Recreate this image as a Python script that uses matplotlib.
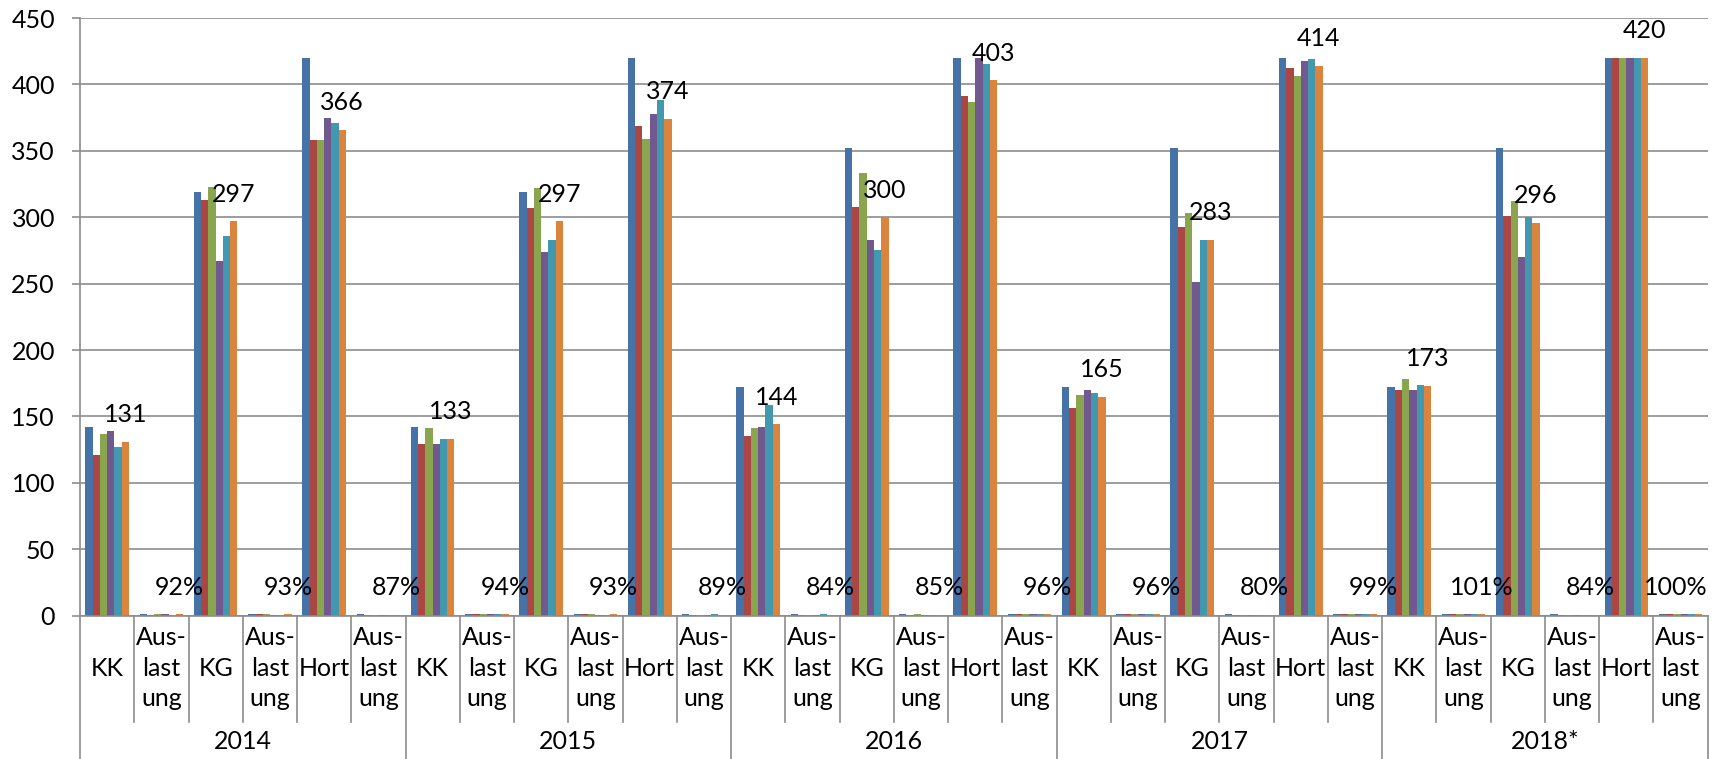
import matplotlib
matplotlib.use("Agg")
import matplotlib.pyplot as plt

plt.rcParams['font.family'] = ['Lato', 'DejaVu Sans']

years = ["2014", "2015", "2016", "2017", "2018*"]
subcats = ["KK", "Aus-\nlast\nung", "KG", "Aus-\nlast\nung", "Hort", "Aus-\nlast\nung"]

# values per category in order: KK, Auslastung, KG, Auslastung, Hort, Auslastung (x 5 years)
s_blue = [142, 1.00, 319, 1.00, 420, 1.00,
          142, 1.00, 319, 1.00, 420, 1.00,
          172, 1.00, 352, 1.00, 420, 1.00,
          172, 1.00, 352, 1.00, 420, 1.00,
          172, 1.00, 352, 1.00, 420, 1.00]
s_red = [121, 0.85, 313, 0.98, 358, 0.85,
         129, 0.91, 307, 0.96, 369, 0.88,
         135, 0.78, 308, 0.88, 391, 0.93,
         156, 0.91, 293, 0.83, 412, 0.98,
         170, 0.99, 301, 0.86, 420, 1.00]
s_green = [137, 0.96, 323, 1.01, 358, 0.85,
           141, 0.99, 322, 1.01, 359, 0.85,
           141, 0.82, 333, 0.95, 387, 0.92,
           166, 0.97, 303, 0.86, 406, 0.97,
           178, 1.03, 312, 0.89, 420, 1.00]
s_purple = [139, 0.98, 267, 0.84, 375, 0.89,
            129, 0.91, 274, 0.86, 378, 0.90,
            142, 0.83, 283, 0.80, 420, 1.00,
            170, 0.99, 251, 0.71, 418, 1.00,
            170, 0.99, 270, 0.77, 420, 1.00]
s_cyan = [127, 0.89, 286, 0.90, 371, 0.88,
          133, 0.94, 283, 0.89, 388, 0.92,
          159, 0.92, 275, 0.78, 415, 0.99,
          168, 0.98, 283, 0.80, 419, 1.00,
          174, 1.01, 300, 0.85, 420, 1.00]
s_orange = [131, 0.92, 297, 0.93, 366, 0.87,
            133, 0.94, 297, 0.93, 374, 0.89,
            144, 0.84, 300, 0.85, 403, 0.96,
            165, 0.96, 283, 0.80, 414, 0.99,
            173, 1.01, 296, 0.84, 420, 1.00]

series = [s_blue, s_red, s_green, s_purple, s_cyan, s_orange]
colors = ['#4572A7', '#AA4643', '#89A54E', '#71588F', '#4198AF', '#DB843D']

yticks = [0, 50, 100, 150, 200, 250, 300, 350, 400, 450]

W, H = 1722, 759
FS = 18
fig = plt.figure(figsize=(W / 100, H / 100), dpi=100)
left, right, top, bottom = 80 / W, 1707.7 / W, 1 - 18 / H, 1 - 615.7 / H
ax = fig.add_axes([left, bottom, right - left, top - bottom])

n = len(s_blue)
bw = 0.134
xs = list(range(n))
gray = '#8C8C8C'

for j, (vals, c) in enumerate(zip(series, colors)):
    pos = [x + (j - 2.5) * bw for x in xs]
    ax.bar(pos, vals, width=bw, color=c, edgecolor='none', zorder=3)

# data labels on last series
for i, v in enumerate(s_orange):
    x = i + 2.5 * bw
    txt = f"{round(v * 100)}%" if v < 5 else f"{int(v)}"
    ha = 'center'
    if i == n - 1:
        # keep the label inside the plot area, as the original does
        x, ha = n - 0.5, 'right'
    ax.annotate(txt, (x, v), xytext=(0, 19.5), textcoords='offset points',
                ha=ha, va='center', fontsize=FS, color='black', zorder=5)

ax.set_xlim(-0.5, n - 0.5)
ax.set_ylim(0, 450)
ax.set_yticks(yticks)
ax.set_yticklabels([str(t) for t in yticks], fontsize=FS)
ax.tick_params(axis='y', length=6, width=1.2, color=gray, pad=12)
ax.set_xticks([])
ax.yaxis.grid(True, color=gray, linewidth=1.2, zorder=0)
ax.set_axisbelow(True)
for s in ['top', 'right']:
    ax.spines[s].set_visible(False)
for s in ['left', 'bottom']:
    ax.spines[s].set_color(gray)
    ax.spines[s].set_linewidth(1.2)
    ax.spines[s].set_zorder(4)

trans = ax.get_xaxis_transform()
ph = 615.7 - 18
y_sub = -(668 - 615.7) / ph
y_sep = -(721.7 - 615.7) / ph
y_year = -(741.7 - 615.7) / ph
y_bot = -(759 - 615.7) / ph

for i in range(n):
    ax.text(i, y_sub, subcats[i % 6], transform=trans, ha='center', va='center',
            fontsize=FS, linespacing=1.42, clip_on=False)
for k in range(n + 1):
    yend = y_bot if k % 6 == 0 else y_sep
    ax.plot([k - 0.5, k - 0.5], [0, yend], transform=trans, color=gray,
            linewidth=1.2, clip_on=False)
for g, yl in enumerate(years):
    ax.text(g * 6 + 2.5, y_year, yl, transform=trans, ha='center', va='center',
            fontsize=FS, clip_on=False)

fig.savefig("out.png", dpi=100)
